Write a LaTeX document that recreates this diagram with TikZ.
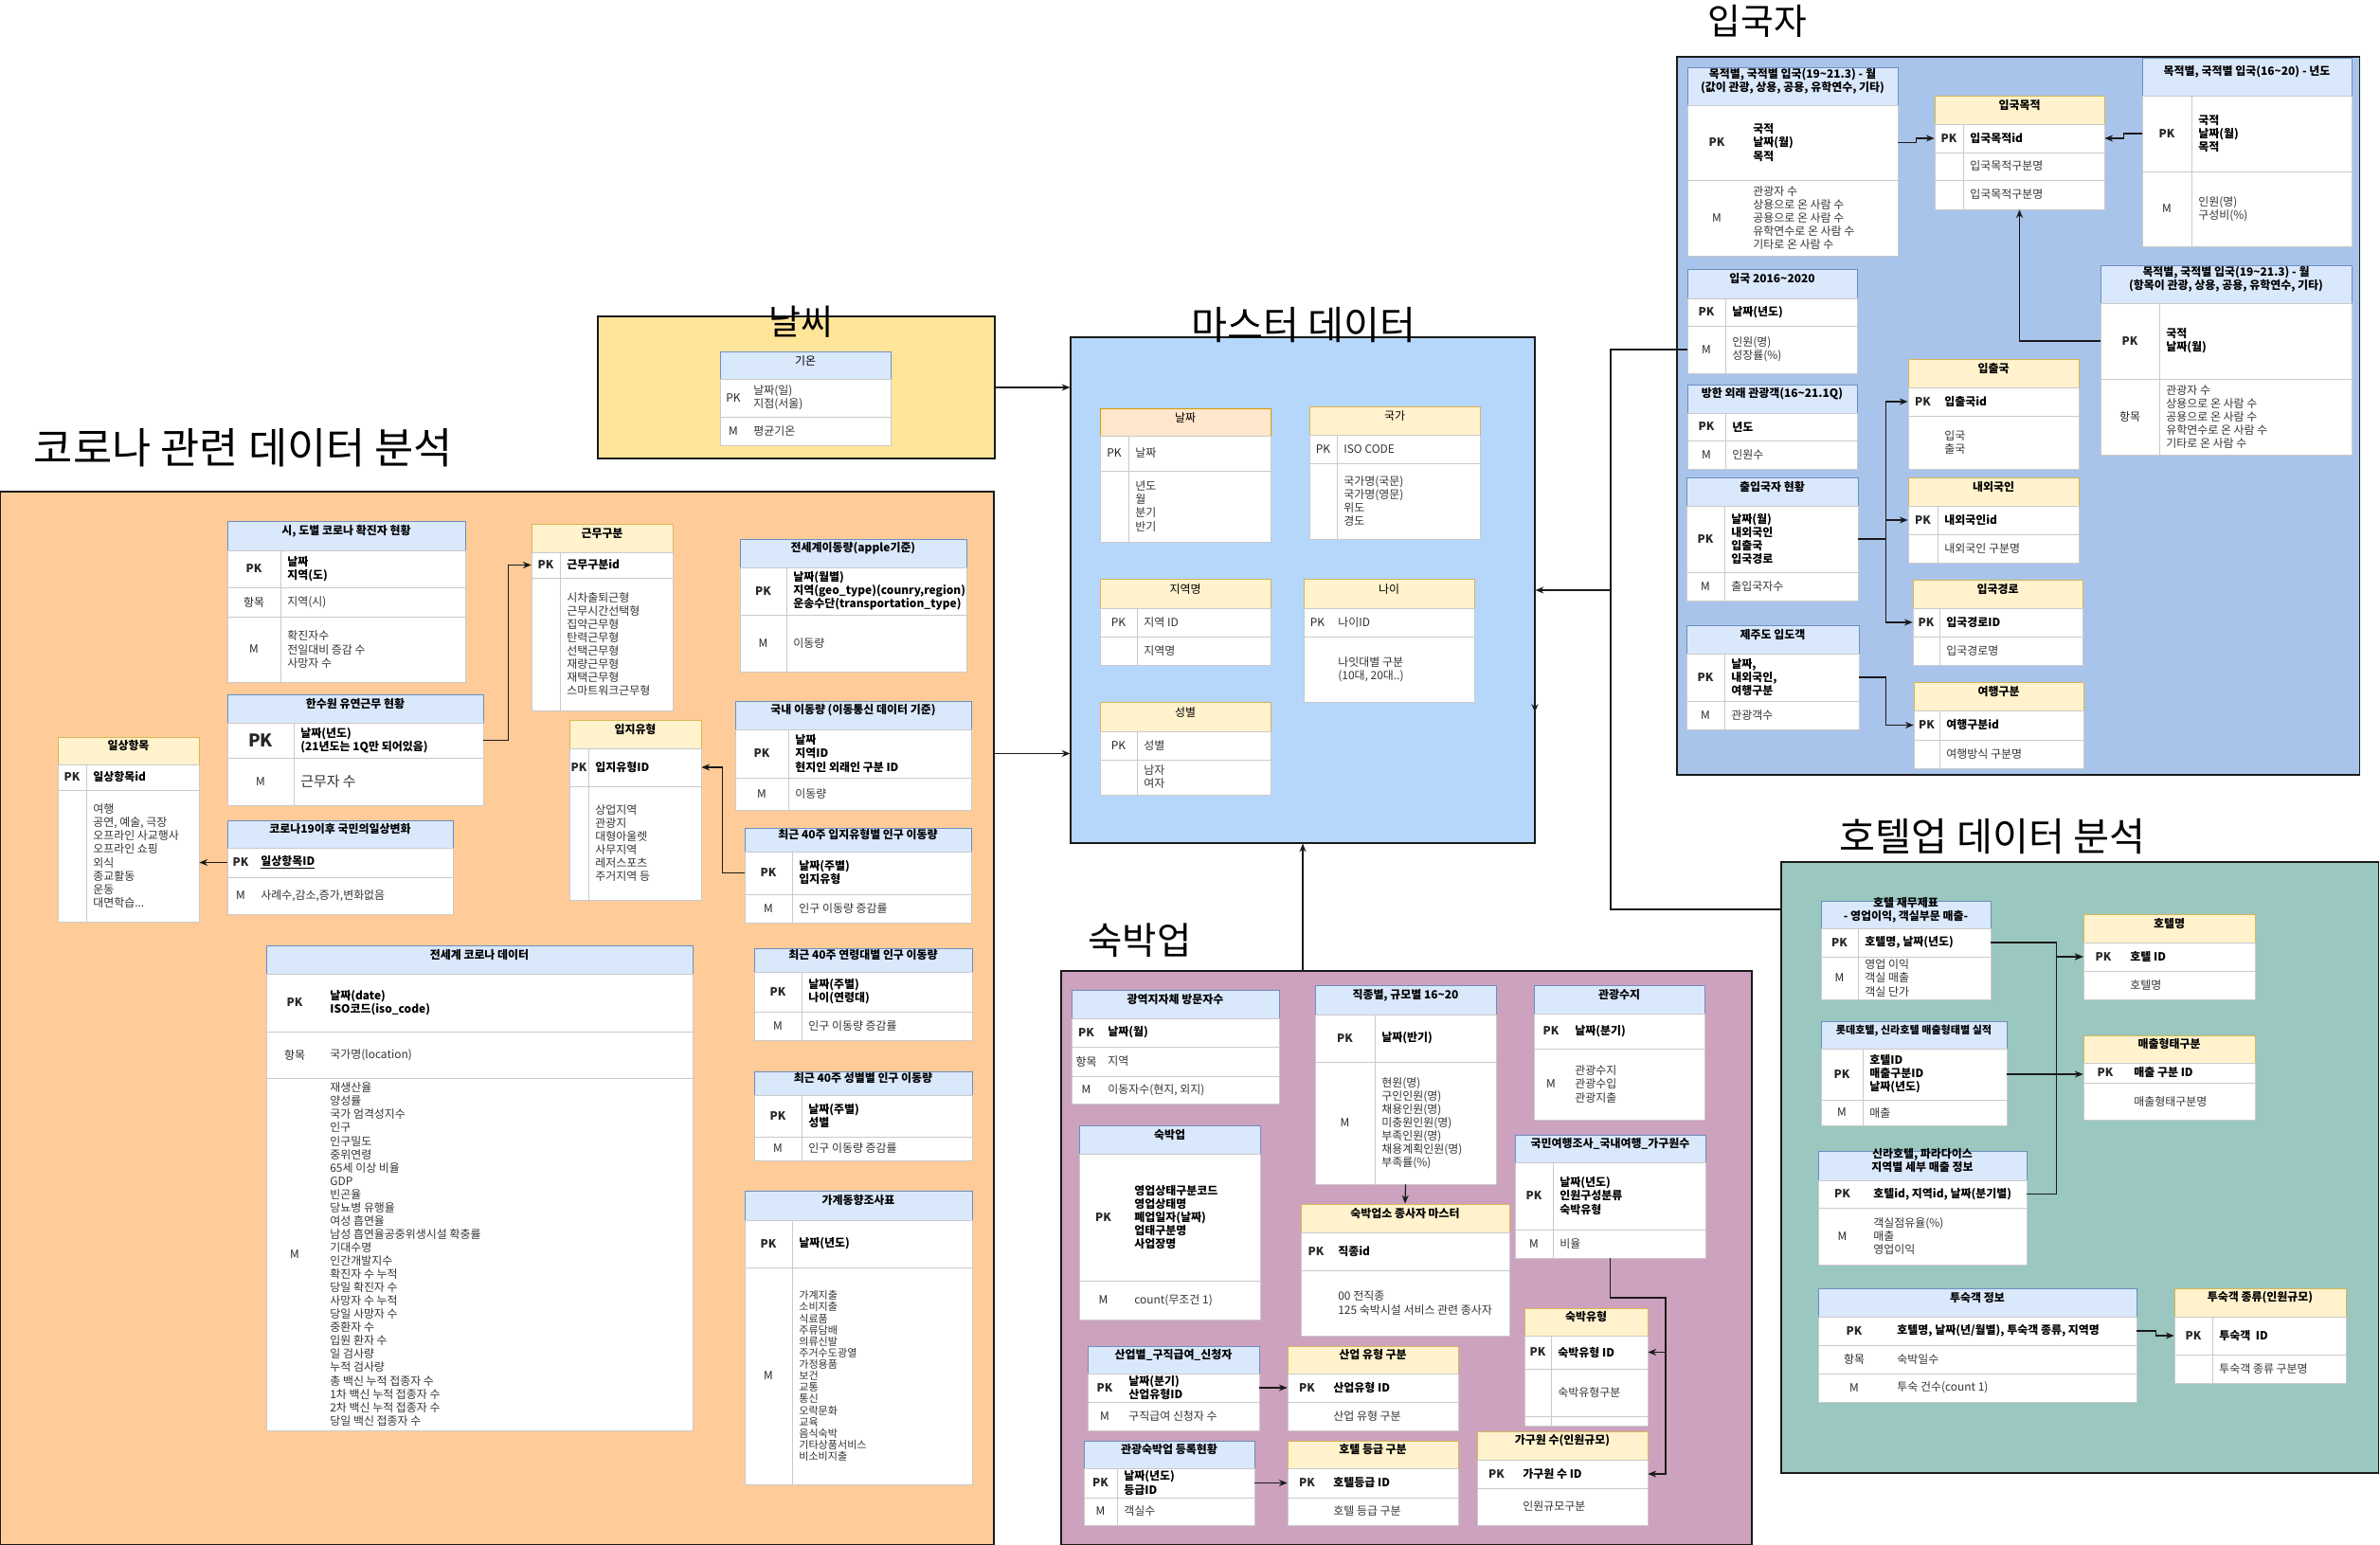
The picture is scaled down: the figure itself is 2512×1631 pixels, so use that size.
\documentclass[tikz,border=0pt]{standalone}
\usepackage{fontspec}
\setmainfont{Noto Sans CJK KR}
\usetikzlibrary{arrows.meta, fit}

\definecolor{coronabg}{HTML}{FFCC99}
\definecolor{weatherbg}{HTML}{FFE599}
\definecolor{masterbg}{HTML}{B5D7FB}
\definecolor{entrybg}{HTML}{A9C4EB}
\definecolor{hotelbg}{HTML}{9AC7BF}
\definecolor{lodgebg}{HTML}{CDA2BE}
\definecolor{hbluefill}{HTML}{DAE8FC}
\definecolor{hblueedge}{HTML}{6C8EBF}
\definecolor{hyelfill}{HTML}{FFF2CC}
\definecolor{hyeledge}{HTML}{D6B656}
\definecolor{hpchfill}{HTML}{FFE6CC}
\definecolor{hpchedge}{HTML}{D79B00}
\definecolor{rowedge}{HTML}{CACACA}
\definecolor{mainedge}{HTML}{1A1A1A}

\newcommand{\fs}{\fontsize{6.8}{8}\selectfont}
\newcommand{\pk}{\textbf{PK}}
\newcommand{\tld}{\textasciitilde}
\newif\ifdiv
% header cell: name, x1, y1, x2, y2, style, title
\newcommand{\tblhead}[7]{\node[#6, fit={(#2,#3) (#4,#5)}] (#1) {#7};}
% body row: [value style] name, x1, y1, x2, y2, key column edge, key, value
\newcommand{\tblrow}[9][]{%
  \node[rowbox, fit={(#3,#4) (#5,#6)}] (#2) {};
  \ifdiv\draw[divline] (#7,#4) -- (#7,#6);\fi
  \node[keytxt] (#2-k) at ({(#3+#7)/2},{(#4+#6)/2}) {#8};
  \node[valtxt,#1] (#2-v) at ({#7+7},{(#4+#6)/2}) {#9};}

\begin{document}
\begin{tikzpicture}[
    x=0.02cm, y=-0.02cm,
    >=Stealth,
    zone/.style={rectangle, draw=mainedge, line width=0.6pt, inner sep=0pt},
    hb/.style={rectangle, fill=hbluefill, draw=hblueedge, line width=0.5pt,
        inner sep=0pt, align=center, font=\fs\bfseries},
    hy/.style={hb, fill=hyelfill, draw=hyeledge},
    hp/.style={hb, fill=hpchfill, draw=hpchedge},
    rowbox/.style={rectangle, fill=white, draw=rowedge, line width=0.4pt, inner sep=0pt},
    divline/.style={draw=rowedge, line width=0.4pt},
    keytxt/.style={inner sep=0pt, font=\fs, text=black!85},
    valtxt/.style={anchor=west, align=left, inner sep=0pt, font=\fs, text=black!80},
    pkv/.style={font=\fs\bfseries, text=black},
    ttl/.style={inner sep=0pt, font=\fontsize{23.5}{27}\selectfont},
    conn/.style={line width=0.7pt, color=mainedge},
    arr/.style={conn, -{Stealth[length=5pt, width=4pt]}},
]
\useasboundingbox (0,0) rectangle (2512,1631);
\fill[white] (0,0) rectangle (2512,1631);

%% ============ ZONES ============
\node[zone, fill=coronabg, fit={(0,519) (1049,1631)}] (corona) {};
\node[zone, fill=weatherbg, fit={(631,334) (1050,484)}] (weather) {};
\node[zone, fill=masterbg, fit={(1130,356) (1620,890)}] (master) {};
\node[zone, fill=entrybg, fit={(1770,60) (2490,818)}] (entry) {};
\node[zone, fill=hotelbg, fit={(1880,910) (2510,1555)}] (hotel) {};
\node[zone, fill=lodgebg, fit={(1120,1025) (1849,1631)}] (lodge) {};

\node[ttl, font=\fontsize{25.5}{30}\selectfont] (t-corona) at (257,473) {코로나 관련 데이터 분석};
\node[ttl, font=\fontsize{21}{25}\selectfont] (t-weather) at (845,340) {날씨};
\node[ttl] (t-master) at (1376,343) {마스터 데이터};
\node[ttl, font=\fontsize{21.5}{25}\selectfont] (t-entry) at (1855,22) {입국자};
\node[ttl] (t-hotel) at (2103,883) {호텔업 데이터 분석};
\node[ttl, font=\fontsize{22.5}{26}\selectfont] (t-lodge) at (1203,993) {숙박업};

%% ============ WEATHER ============
\divfalse
\tblhead{temp}{760}{371}{940}{400}{hb, font=\fs}{기온}
\tblrow{temp-pk}{760}{400}{940}{440}{788}{PK}{날짜(일)\\지점(서울)}
\tblrow{temp-m}{760}{440}{940}{470}{788}{M}{평균기온}

%% ============ MASTER DATA ============
\divtrue
\tblhead{date}{1161}{431}{1341}{460}{hp, font=\fs}{날짜}
\tblrow{date-pk}{1161}{460}{1341}{497}{1191}{PK}{날짜}
\tblrow{date-b}{1161}{497}{1341}{572}{1191}{}{년도\\월\\분기\\반기}

\tblhead{nation}{1382}{429}{1562}{459}{hy, font=\fs}{국가}
\tblrow{nation-pk}{1382}{459}{1562}{489}{1411}{PK}{ISO CODE}
\tblrow{nation-b}{1382}{489}{1562}{569}{1411}{}{국가명(국문)\\국가명(영문)\\위도\\경도}

\tblhead{region}{1161}{611}{1341}{642}{hy, font=\fs}{지역명}
\tblrow{region-pk}{1161}{642}{1341}{672}{1200}{PK}{지역 ID}
\tblrow{region-b}{1161}{672}{1341}{702}{1200}{}{지역명}

\tblhead{sex}{1161}{741}{1341}{772}{hy, font=\fs}{성별}
\tblrow{sex-pk}{1161}{772}{1341}{802}{1200}{PK}{성별}
\tblrow{sex-b}{1161}{802}{1341}{839}{1200}{}{남자\\여자}

\divfalse
\tblhead{age}{1376}{611}{1556}{642}{hy, font=\fs}{나이}
\tblrow{age-pk}{1376}{642}{1556}{672}{1405}{PK}{나이ID}
\tblrow{age-b}{1376}{672}{1556}{741}{1405}{}{나잇대별 구분\\(10대, 20대..)}

%% ============ CORONA ============
\divtrue
\tblhead{sido}{240}{550}{491}{581}{hb}{시, 도별 코로나 확진자 현황}
\tblrow[pkv]{sido-pk}{240}{581}{491}{620}{296}{\pk}{날짜\\지역(도)}
\tblrow{sido-it}{240}{620}{491}{651}{296}{항목}{지역(시)}
\tblrow{sido-m}{240}{651}{491}{720}{296}{M}{확진자수\\전일대비 증감 수\\사망자 수}

\tblhead{flex}{240}{733}{510}{763}{hb}{한수원 유연근무 현황}
\tblrow[pkv]{flex-pk}{240}{763}{510}{800}{310}{\fontsize{10.5}{12}\selectfont\bfseries PK}{날짜(년도)\\(21년도는 1Q만 되어있음)}
\tblrow[font=\fontsize{8.5}{10}\selectfont]{flex-m}{240}{800}{510}{850}{310}{M}{근무자 수}

\tblhead{daily}{61}{778}{210}{807}{hy}{일상항목}
\tblrow[pkv]{daily-pk}{61}{807}{210}{834}{91}{\pk}{일상항목id}
\tblrow{daily-b}{61}{834}{210}{973}{91}{}{여행\\공연, 예술, 극장\\오프라인 사교행사\\오프라인 쇼핑\\외식\\종교활동\\운동\\대면학습...}

\tblhead{worktype}{561}{553}{710}{583}{hy}{근무구분}
\tblrow[pkv]{worktype-pk}{561}{583}{710}{610}{591}{\pk}{근무구분id}
\tblrow{worktype-b}{561}{610}{710}{750}{591}{}{시차출퇴근형\\근무시간선택형\\집약근무형\\탄력근무형\\선택근무형\\재량근무형\\재택근무형\\스마트워크근무형}

\tblhead{site}{601}{760}{740}{790}{hy}{입지유형}
\tblrow[pkv]{site-pk}{601}{790}{740}{830}{621}{\pk}{입지유형ID}
\tblrow{site-b}{601}{830}{740}{950}{621}{}{상업지역\\관광지\\대형아울렛\\사무지역\\레저스포츠\\주거지역 등}

\tblhead{apple}{781}{569}{1020}{599}{hb}{전세계이동량(apple기준)}
\tblrow[pkv]{apple-pk}{781}{599}{1020}{649}{830}{\pk}{날짜(월별)\\지역(geo\_type)(counry,region)\\운송수단(transportation\_type)}
\tblrow{apple-m}{781}{649}{1020}{709}{830}{M}{이동량}

\tblhead{domestic}{776}{740}{1025}{770}{hb}{국내 이동량 (이동통신 데이터 기준)}
\tblrow[pkv]{domestic-pk}{776}{770}{1025}{821}{832}{\pk}{날짜\\지역ID\\현지인 외래인 구분 ID}
\tblrow{domestic-m}{776}{821}{1025}{855}{832}{M}{이동량}

\tblhead{wksite}{786}{874}{1025}{899}{hb}{최근 40주 입지유형별 인구 이동량}
\tblrow[pkv]{wksite-pk}{786}{899}{1025}{944}{836}{\pk}{날짜(주별)\\입지유형}
\tblrow{wksite-m}{786}{944}{1025}{974}{836}{M}{인구 이동량 증감률}

\tblhead{wkage}{796}{1001}{1026}{1026}{hb}{최근 40주 연령대별 인구 이동량}
\tblrow[pkv]{wkage-pk}{796}{1026}{1026}{1068}{846}{\pk}{날짜(주별)\\나이(연령대)}
\tblrow{wkage-m}{796}{1068}{1026}{1098}{846}{M}{인구 이동량 증감률}

\tblhead{wksex}{796}{1131}{1026}{1156}{hb}{최근 40주 성별별 인구 이동량}
\tblrow[pkv]{wksex-pk}{796}{1156}{1026}{1200}{846}{\pk}{날짜(주별)\\성별}
\tblrow{wksex-m}{796}{1200}{1026}{1225}{846}{M}{인구 이동량 증감률}

\tblhead{house}{786}{1257}{1026}{1288}{hb}{가계동향조사표}
\tblrow[pkv]{house-pk}{786}{1288}{1026}{1338}{836}{\pk}{날짜(년도)}
\tblrow[font=\fontsize{6.3}{6.9}\selectfont]{house-m}{786}{1338}{1026}{1567}{836}{M}{가계지출\\소비지출\\식료품\\주류담배\\의류신발\\주거수도광열\\가정용품\\보건\\교통\\통신\\오락문화\\교육\\음식숙박\\기타상품서비스\\비소비지출}

\divfalse
\tblhead{change}{240}{866}{478}{895}{hb}{코로나19이후 국민의일상변화}
\tblrow[pkv]{change-pk}{240}{895}{478}{926}{268}{\pk}{\underline{일상항목ID}}
\tblrow{change-m}{240}{926}{478}{965}{268}{M}{사례수,감소,증가,변화없음}

\tblhead{world}{281}{998}{731}{1028}{hb}{전세계 코로나 데이터}
\tblrow[pkv]{world-pk}{281}{1028}{731}{1089}{341}{\pk}{날짜(date)\\ISO코드(iso\_code)}
\tblrow{world-it}{281}{1089}{731}{1138}{341}{항목}{국가명(location)}
\tblrow{world-m}{281}{1138}{731}{1510}{341}{M}{재생산율\\양성률\\국가 엄격성지수\\인구\\인구밀도\\중위연령\\65세 이상 비율\\GDP\\빈곤율\\당뇨병 유행율\\여성 흡연율\\남성 흡연율공중위생시설 확충률\\기대수명\\인간개발지수\\확진자 수 누적\\당일 확진자 수\\사망자 수 누적\\당일 사망자 수\\중환자 수\\입원 환자 수\\일 검사량\\누적 검사량\\총 백신 누적 접종자 수\\1차 백신 누적 접종자 수\\2차 백신 누적 접종자 수\\당일 백신 접종자 수}

%% ============ ENTRY ============
\divfalse
\tblhead{purp1}{1781}{71}{2003}{111}{hb}{목적별, 국적별 입국(19\tld21.3) - 월\\(값이 관광, 상용, 공용, 유학연수, 기타)}
\tblrow[pkv]{purp1-pk}{1781}{111}{2003}{190}{1843}{\pk}{국적\\날짜(월)\\목적}
\tblrow{purp1-m}{1781}{190}{2003}{270}{1843}{M}{관광자 수\\상용으로 온 사람 수\\공용으로 온 사람 수\\유학연수로 온 사람 수\\기타로 온 사람 수}

\tblhead{ipchul}{2014}{379}{2194}{409}{hy}{입출국}
\tblrow[pkv]{ipchul-pk}{2014}{409}{2194}{439}{2045}{\pk}{입출국id}
\tblrow{ipchul-b}{2014}{439}{2194}{495}{2045}{}{입국\\출국}

\divtrue
\tblhead{purpose}{2042}{101}{2221}{131}{hy}{입국목적}
\tblrow[pkv]{purpose-pk}{2042}{131}{2221}{161}{2072}{\pk}{입국목적id}
\tblrow{purpose-b1}{2042}{161}{2221}{190}{2072}{}{입국목적구분명}
\tblrow{purpose-b2}{2042}{190}{2221}{221}{2072}{}{입국목적구분명}

\tblhead{purp2}{2261}{61}{2482}{101}{hb}{목적별, 국적별 입국(16\tld20) - 년도}
\tblrow[pkv]{purp2-pk}{2261}{101}{2482}{181}{2313}{\pk}{국적\\날짜(월)\\목적}
\tblrow{purp2-m}{2261}{181}{2482}{260}{2313}{M}{인원(명)\\구성비(\%)}

\tblhead{purp3}{2217}{280}{2482}{320}{hb}{목적별, 국적별 입국(19\tld21.3) - 월\\(항목이 관광, 상용, 공용, 유학연수, 기타)}
\tblrow[pkv]{purp3-pk}{2217}{320}{2482}{400}{2279}{\pk}{국적\\날짜(월)}
\tblrow{purp3-it}{2217}{400}{2482}{480}{2279}{항목}{관광자 수\\상용으로 온 사람 수\\공용으로 온 사람 수\\유학연수로 온 사람 수\\기타로 온 사람 수}

\tblhead{in2016}{1781}{284}{1960}{315}{hb}{입국 2016\tld2020}
\tblrow[pkv]{in2016-pk}{1781}{315}{1960}{344}{1821}{\pk}{날짜(년도)}
\tblrow{in2016-m}{1781}{344}{1960}{394}{1821}{M}{인원(명)\\성장률(\%)}

\tblhead{visitor}{1781}{406}{1960}{436}{hb}{방한 외래 관광객(16\tld21.1Q)}
\tblrow[pkv]{visitor-pk}{1781}{436}{1960}{465}{1821}{\pk}{년도}
\tblrow{visitor-m}{1781}{465}{1960}{495}{1821}{M}{인원수}

\tblhead{border}{1780}{504}{1961}{534}{hb}{출입국자 현황}
\tblrow[pkv]{border-pk}{1780}{534}{1961}{604}{1820}{\pk}{날짜(월)\\내외국인\\입출국\\입국경로}
\tblrow{border-m}{1780}{604}{1961}{634}{1820}{M}{출입국자수}

\tblhead{jeju}{1780}{660}{1962}{690}{hb}{제주도 입도객}
\tblrow[pkv]{jeju-pk}{1780}{690}{1962}{740}{1820}{\pk}{날짜,\\내외국인,\\여행구분}
\tblrow{jeju-m}{1780}{740}{1962}{770}{1820}{M}{관광객수}

\tblhead{native}{2014}{504}{2194}{534}{hy}{내외국인}
\tblrow[pkv]{native-pk}{2014}{534}{2194}{564}{2045}{\pk}{내외국인id}
\tblrow{native-b}{2014}{564}{2194}{594}{2045}{}{내외국인 구분명}

\tblhead{route}{2019}{612}{2198}{642}{hy}{입국경로}
\tblrow[pkv]{route-pk}{2019}{642}{2198}{672}{2047}{\pk}{입국경로ID}
\tblrow{route-b}{2019}{672}{2198}{702}{2047}{}{입국경로명}

\tblhead{trip}{2020}{720}{2199}{750}{hy}{여행구분}
\tblrow[pkv]{trip-pk}{2020}{750}{2199}{781}{2047}{\pk}{여행구분id}
\tblrow{trip-b}{2020}{781}{2199}{811}{2047}{}{여행방식 구분명}

%% ============ LODGING ============
\divfalse
\tblhead{metro}{1131}{1045}{1350}{1075}{hb}{광역지자체 방문자수}
\tblrow[pkv]{metro-pk}{1131}{1075}{1350}{1105}{1162}{\pk}{날짜(월)}
\tblrow{metro-it}{1131}{1105}{1350}{1136}{1162}{항목}{지역}
\tblrow{metro-m}{1131}{1136}{1350}{1165}{1162}{M}{이동자수(현지, 외지)}

\tblhead{inn}{1139}{1188}{1330}{1218}{hb}{숙박업}
\tblrow[pkv]{inn-pk}{1139}{1218}{1330}{1352}{1190}{\pk}{영업상태구분코드\\영업상태명\\폐업일자(날짜)\\업태구분명\\사업장명}
\tblrow{inn-m}{1139}{1352}{1330}{1393}{1190}{M}{count(무조건 1)}

\tblhead{staff}{1373}{1271}{1593}{1301}{hy}{숙박업소 종사자 마스터}
\tblrow[pkv]{staff-pk}{1373}{1301}{1593}{1341}{1405}{\pk}{직종id}
\tblrow{staff-b}{1373}{1341}{1593}{1410}{1405}{}{00 전직종\\125 숙박시설 서비스 관련 종사자}

\tblhead{claim}{1148}{1421}{1329}{1450}{hb}{산업별\_구직급여\_신청자}
\tblrow[pkv]{claim-pk}{1148}{1450}{1329}{1480}{1184}{\pk}{날짜(분기)\\산업유형ID}
\tblrow{claim-m}{1148}{1480}{1329}{1510}{1184}{M}{구직급여 신청자 수}

\tblhead{industry}{1359}{1421}{1539}{1450}{hy}{산업 유형 구분}
\tblrow[pkv]{industry-pk}{1359}{1450}{1539}{1480}{1400}{\pk}{산업유형 ID}
\tblrow{industry-b}{1359}{1480}{1539}{1510}{1400}{}{산업 유형 구분}

\tblhead{grade}{1359}{1521}{1539}{1550}{hy}{호텔 등급 구분}
\tblrow[pkv]{grade-pk}{1359}{1550}{1539}{1581}{1400}{\pk}{호텔등급 ID}
\tblrow{grade-b}{1359}{1581}{1539}{1610}{1400}{}{호텔 등급 구분}

\tblhead{balance}{1619}{1040}{1799}{1070}{hb}{관광수지}
\tblrow[pkv]{balance-pk}{1619}{1070}{1799}{1107}{1655}{\pk}{날짜(분기)}
\tblrow{balance-m}{1619}{1107}{1799}{1182}{1655}{M}{관광수지\\관광수입\\관광지출}

\tblhead{family}{1559}{1511}{1739}{1541}{hy}{가구원 수(인원규모)}
\tblrow[pkv]{family-pk}{1559}{1541}{1739}{1571}{1600}{\pk}{가구원 수 ID}
\tblrow{family-b}{1559}{1571}{1739}{1610}{1600}{}{인원규모구분}

\divtrue
\tblhead{jobs}{1388}{1040}{1579}{1071}{hb}{직종별, 규모별 16\tld20}
\tblrow[pkv]{jobs-pk}{1388}{1071}{1579}{1121}{1451}{\pk}{날짜(반기)}
\tblrow{jobs-m}{1388}{1121}{1579}{1250}{1451}{M}{현원(명)\\구인인원(명)\\채용인원(명)\\미충원인원(명)\\부족인원(명)\\채용계획인원(명)\\부족률(\%)}

\tblhead{tourreg}{1144}{1521}{1324}{1550}{hb}{관광숙박업 등록현황}
\tblrow[pkv]{tourreg-pk}{1144}{1550}{1324}{1581}{1179}{\pk}{날짜(년도)\\등급ID}
\tblrow{tourreg-m}{1144}{1581}{1324}{1610}{1179}{M}{객실수}

\tblhead{survey}{1599}{1198}{1800}{1227}{hb}{국민여행조사\_국내여행\_가구원수}
\tblrow[pkv]{survey-pk}{1599}{1227}{1800}{1298}{1639}{\pk}{날짜(년도)\\인원구성분류\\숙박유형}
\tblrow{survey-m}{1599}{1298}{1800}{1328}{1639}{M}{비율}

\tblhead{staytype}{1609}{1381}{1739}{1410}{hy}{숙박유형}
\tblrow[pkv]{staytype-pk}{1609}{1410}{1739}{1445}{1637}{\pk}{숙박유형 ID}
\tblrow{staytype-b}{1609}{1445}{1739}{1495}{1637}{}{숙박유형구분}
\tblrow{staytype-x}{1609}{1495}{1739}{1505}{1637}{}{}

%% ============ HOTEL ============
\divtrue
\tblhead{finance}{1922}{951}{2101}{980}{hb}{호텔 재무제표\\- 영업이익, 객실부문 매출-}
\tblrow[pkv]{finance-pk}{1922}{980}{2101}{1010}{1961}{\pk}{호텔명, 날짜(년도)}
\tblrow{finance-m}{1922}{1010}{2101}{1055}{1961}{M}{영업 이익\\객실 매출\\객실 단가}

\tblhead{lotte}{1922}{1078}{2118}{1107}{hb, font=\fontsize{6.3}{7.5}\selectfont\bfseries}{롯데호텔, 신라호텔 매출형태별 실적}
\tblrow[pkv]{lotte-pk}{1922}{1107}{2118}{1161}{1966}{\pk}{호텔ID\\매출구분ID\\날짜(년도)}
\tblrow{lotte-m}{1922}{1161}{2118}{1188}{1966}{M}{매출}

\tblhead{guestkind}{2295}{1360}{2476}{1390}{hy}{투숙객 종류(인원규모)}
\tblrow[pkv]{guestkind-pk}{2295}{1390}{2476}{1430}{2335}{\pk}{투숙객\ \ ID}
\tblrow{guestkind-b}{2295}{1430}{2476}{1460}{2335}{}{투숙객 종류 구분명}

\divfalse
\tblhead{shilla}{1919}{1215}{2139}{1246}{hb}{신라호텔, 파라다이스\\지역별 세부 매출 정보}
\tblrow[pkv]{shilla-pk}{1919}{1246}{2139}{1275}{1970}{\pk}{호텔id, 지역id, 날짜(분기별)}
\tblrow{shilla-m}{1919}{1275}{2139}{1335}{1970}{M}{객실점유율(\%)\\매출\\영업이익}

\tblhead{hname}{2199}{965}{2380}{995}{hy}{호텔명}
\tblrow[pkv]{hname-pk}{2199}{995}{2380}{1025}{2241}{\pk}{호텔 ID}
\tblrow{hname-b}{2199}{1025}{2380}{1055}{2241}{}{호텔명}

\tblhead{sales}{2199}{1093}{2380}{1122}{hy}{매출형태구분}
\tblrow[pkv]{sales-pk}{2199}{1122}{2380}{1143}{2245}{\pk}{매출 구분 ID}
\tblrow{sales-b}{2199}{1143}{2380}{1182}{2245}{}{매출형태구분명}

\tblhead{guest}{1919}{1360}{2255}{1390}{hb}{투숙객 정보}
\tblrow[pkv]{guest-pk}{1919}{1390}{2255}{1420}{1995}{\pk}{호텔명, 날짜(년/월별), 투숙객 종류, 지역명}
\tblrow{guest-it}{1919}{1420}{2255}{1450}{1995}{항목}{숙박일수}
\tblrow{guest-m}{1919}{1450}{2255}{1480}{1995}{M}{투숙 건수(count 1)}

%% ============ CONNECTORS ============
% zones -> master data
\draw[arr] (weather.east) -- (weather.east -| master.west);
\draw[arr] (domestic-pk.east -| corona.east) -- (domestic-pk.east -| master.west);
\draw[arr] (master.south |- lodge.north) -- (master.south);

% entry zone -> master / hotel zone
\coordinate (mbus) at (1700,623);
\coordinate (hbend) at (1700,960);
\draw[conn] (in2016-m.west) -| (hbend) -- (hbend -| hotel.west);
\draw[arr] (mbus) -- (mbus -| master.east);
\coordinate (stray) at (1620,752);
\draw[arr] ([yshift=5pt]stray) -- (stray);

% corona
\draw[arr] (flex-pk.east) -- ++(26,0) |- (worktype-pk.west);
\draw[arr] (change-pk.west) -- (change-pk.west -| daily-b.east);
\draw[arr] (wksite-pk.west) -- ++(-23,0) |- (site-pk.east);

% entry
\draw[arr] (purp1-pk.east) -- ++(19,0) |- (purpose-pk.west);
\draw[arr] (purp2-pk.west) -- ++(-19,0) |- (purpose-pk.east);
\draw[arr] (purp3-pk.west) -| (purpose-b2.south);
\draw[arr] (border-pk.east) -- ++(29,0) |- (ipchul-pk.west);
\draw[arr] (border-pk.east) -- ++(29,0) |- (native-pk.west);
\draw[arr] (border-pk.east) -- ++(29,0) |- (route-pk.west);
\draw[arr] (jeju-pk.east) -- ++(28,0) |- (trip-pk.west);

% lodging
\draw[arr] (jobs-m.south) -- (staff.north);
\draw[arr] (claim-pk.east) -- (claim-pk.east -| industry-pk.west);
\draw[arr] (tourreg-pk.east) -- (tourreg-pk.east -| grade-pk.west);
\coordinate (gbus) at (1758,1370);
\draw[arr] (survey-m.south) |- (gbus) |- (staytype-pk.east);
\draw[arr] (gbus) |- (family-pk.east);

% hotel
\draw[arr] (finance-pk.east) -- ++(69,0) |- (hname-pk.west);
\draw[arr] (shilla-pk.east) -- ++(31,0) |- (hname-pk.west);
\draw[arr] (lotte-pk.east) -- (lotte-pk.east -| sales-pk.west);
\draw[arr] (guest-pk.east) -- ++(20,0) |- (guestkind-pk.west);

\end{tikzpicture}
\end{document}
